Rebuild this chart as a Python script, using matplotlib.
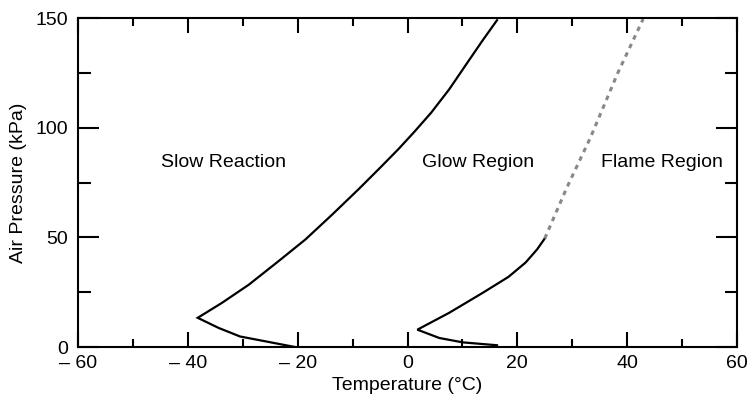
import matplotlib
matplotlib.use("Agg")
import matplotlib.pyplot as plt
from matplotlib.ticker import MultipleLocator, FixedLocator

plt.rcParams['font.family'] = ['Liberation Sans', 'DejaVu Sans']

# Slow reaction / glow boundary (temperature in C, pressure in kPa)
slow_T = [-20.5, -25.9, -30.5, -34.4, -38.2, -33.8, -28.9, -23.5, -18.6, -13.7,
          -8.8, -5.0, -1.7, 1.1, 4.3, 7.6, 10.7, 13.6, 16.3]
slow_P = [0.0, 2.6, 4.8, 8.7, 13.3, 20.1, 28.4, 39.1, 49.0, 60.4,
          72.2, 81.7, 90.1, 97.7, 106.8, 117.5, 128.9, 139.5, 149.0]

# Glow / flame boundary, measured part
glow_T = [16.3, 10.1, 5.8, 1.8, 7.6, 13.7, 18.4, 21.5, 23.6, 25.0]
glow_P = [0.8, 2.1, 4.1, 7.9, 15.6, 24.7, 32.0, 38.5, 44.5, 49.5]

# Glow / flame boundary, extrapolated part
flame_T = [25.0, 29.0, 33.3, 38.3, 42.9]
flame_P = [49.5, 72.6, 95.4, 125.0, 149.5]

region_labels = ["Slow Reaction", "Glow Region", "Flame Region"]
region_T = [-33.5, 12.9, 46.3]
region_P = [82, 82, 82]

x_ticks = [-60, -40, -20, 0, 20, 40, 60]
x_tick_labels = ["\u2013 60", "\u2013 40", "\u2013 20", "0", "20", "40", "60"]
y_ticks = [0, 50, 100, 150]

fig = plt.figure(figsize=(7.5, 3.98), dpi=100)
ax = fig.add_axes([78 / 750, 51 / 398, 659 / 750, 329 / 398])

ax.plot(slow_T, slow_P, color='black', lw=1.6, solid_joinstyle='miter')
ax.plot(glow_T, glow_P, color='black', lw=1.6, solid_joinstyle='miter')
ax.plot(flame_T, flame_P, color='#888888', lw=2.2, linestyle=(0, (1.5, 1.6)))

for lab, t, p in zip(region_labels, region_T, region_P):
    ax.text(t, p, lab, ha='center', va='baseline', fontsize=14)

ax.set_xlim(-60, 60)
ax.set_ylim(0, 150)
ax.xaxis.set_major_locator(FixedLocator(x_ticks))
ax.set_xticklabels(x_tick_labels)
ax.xaxis.set_minor_locator(MultipleLocator(10))
ax.yaxis.set_major_locator(FixedLocator(y_ticks))
ax.yaxis.set_minor_locator(MultipleLocator(25))

for s in ax.spines.values():
    s.set_linewidth(1.5)

ax.tick_params(axis='x', which='both', direction='in', top=True, width=1.5,
               labelsize=14, pad=6)
ax.tick_params(axis='x', which='major', length=10.5)
ax.tick_params(axis='x', which='minor', length=6)
ax.tick_params(axis='y', which='both', direction='in', right=True, width=1.5,
               labelsize=14, pad=7)
ax.tick_params(axis='y', which='major', length=15)
ax.tick_params(axis='y', which='minor', length=9)

ax.set_xlabel("Temperature (\u00b0C)", fontsize=14, labelpad=3)
ax.set_ylabel("Air Pressure (kPa)", fontsize=14, labelpad=6)

fig.savefig("out.png", dpi=100)
